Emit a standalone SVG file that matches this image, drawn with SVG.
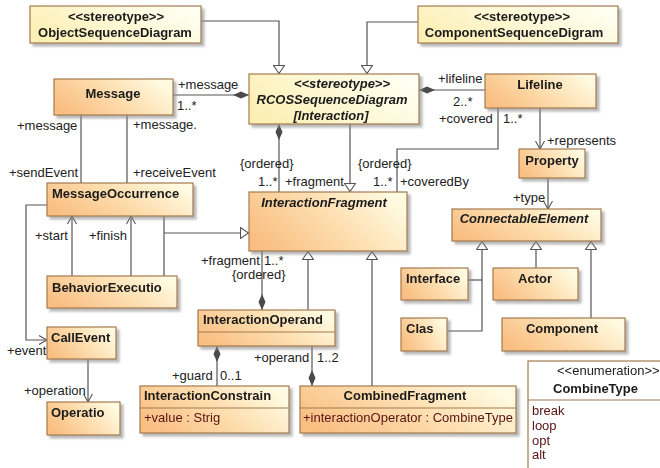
<svg xmlns="http://www.w3.org/2000/svg" width="660" height="468" viewBox="0 0 660 468">
  <defs>
    <linearGradient id="gOrange" x1="0" y1="0.7" x2="1" y2="0.3">
      <stop offset="0" stop-color="#f9be82"/>
      <stop offset="0.5" stop-color="#fddcac"/>
      <stop offset="1" stop-color="#fffbe2"/>
    </linearGradient>
    <linearGradient id="gYellow" x1="0" y1="0.7" x2="1" y2="0.3">
      <stop offset="0" stop-color="#fcefb4"/>
      <stop offset="1" stop-color="#fffff2"/>
    </linearGradient>
    <filter id="shadow" x="-10%" y="-10%" width="130%" height="140%">
      <feDropShadow dx="3" dy="3" stdDeviation="1" flood-color="#8c8c8c" flood-opacity="0.6"/>
    </filter>
    <!-- generalization: hollow triangle -->
    <marker id="gen" viewBox="0 0 9 12" refX="9" refY="6" markerWidth="9" markerHeight="12" markerUnits="userSpaceOnUse" orient="auto">
      <path d="M0.5,0.5 L8.5,6 L0.5,11.5 z" fill="#fff" stroke="#555" stroke-width="1.1"/>
    </marker>
    <!-- navigable end: open arrow -->
    <marker id="open" viewBox="0 0 9 10" refX="8.5" refY="5" markerWidth="9" markerHeight="10" markerUnits="userSpaceOnUse" orient="auto">
      <path d="M0.5,0.5 L8.5,5 L0.5,9.5" fill="none" stroke="#555" stroke-width="1.1"/>
    </marker>
    <!-- composition: filled diamond -->
    <marker id="comp" viewBox="0 0 16 8" refX="16" refY="4" markerWidth="16" markerHeight="8" markerUnits="userSpaceOnUse" orient="auto">
      <path d="M0,4 L8,0.5 L16,4 L8,7.5 z" fill="#4a4a4a"/>
    </marker>
  </defs>
  <style>
    .box { stroke: #a47a4e; stroke-width: 1.2; }
    .orange { fill: url(#gOrange); }
    .yellow { fill: url(#gYellow); }
    .enum { fill: #ffffff; }
    .node { filter: url(#shadow); }
    .div { stroke: #a47a4e; stroke-width: 1.2; }
    .name { font-family: "Liberation Sans", Arial, sans-serif; font-size: 13px; font-weight: bold; fill: #1a1a1a; }
    .ital { font-style: italic; }
    .lbl { font-family: "Liberation Sans", Arial, sans-serif; font-size: 13px; fill: #222; }
    .attr { font-family: "Liberation Sans", Arial, sans-serif; font-size: 13px; fill: #5a1212; }
    .mid { text-anchor: middle; }
    #connectors path { fill: none; stroke: #555; stroke-width: 1.2; }
    .g { marker-end: url(#gen); }
    .o { marker-end: url(#open); }
    .c { marker-end: url(#comp); }
  </style>

  <!-- associations, generalizations and compositions -->
  <g id="connectors">
    <path class="g" d="M201,21 H279 V74"/>
    <path class="g" d="M418,22 H367 V74"/>
    <path class="c" d="M173,95 H249"/>
    <path class="c" d="M485,90 H419"/>
    <path d="M81,115 V183"/>
    <path d="M127,115 V183"/>
    <path class="c" d="M279,192 V124"/>
    <path class="g" d="M350,124 V192"/>
    <path d="M498,108 V149 H397 V192"/>
    <path class="o" d="M540,108 V149"/>
    <path class="o" d="M548,178 V209"/>
    <path d="M164,216 V276"/>
    <path class="g" d="M164,233 H249"/>
    <path class="o" d="M72,276 V216"/>
    <path class="o" d="M131,276 V216"/>
    <path class="o" d="M47,205 H26 V340 H47"/>
    <path class="o" d="M88,359 V402"/>
    <path class="c" d="M262,251 V310"/>
    <path class="g" d="M308,310 V251"/>
    <path class="g" d="M372,386 V251"/>
    <path class="c" d="M217,386 V346"/>
    <path class="c" d="M312,346 V386"/>
    <path d="M468,280 H482"/>
    <path class="g" d="M447,331 H482 V241"/>
    <path class="g" d="M536,268 V241"/>
    <path class="g" d="M591,318 V241"/>
  </g>

  <!-- role names and multiplicities -->
  <g id="labels">
    <text class="lbl" x="178" y="89">+message</text>
    <text class="lbl" x="177" y="110">1..*</text>
    <text class="lbl" x="17" y="130">+message</text>
    <text class="lbl" x="133" y="129">+message.</text>
    <text class="lbl" x="9" y="177">+sendEvent</text>
    <text class="lbl" x="133" y="177">+receiveEvent</text>
    <text class="lbl" x="240" y="168">{ordered}</text>
    <text class="lbl" x="258" y="186">1..*</text>
    <text class="lbl" x="285" y="186">+fragment</text>
    <text class="lbl" x="358" y="168">{ordered}</text>
    <text class="lbl" x="373" y="186">1..*</text>
    <text class="lbl" x="400" y="186">+coveredBy</text>
    <text class="lbl" x="438" y="83">+lifeline</text>
    <text class="lbl" x="453" y="106">2..*</text>
    <text class="lbl" x="439" y="123">+covered</text>
    <text class="lbl" x="503" y="123">1..*</text>
    <text class="lbl" x="547" y="145">+represents</text>
    <text class="lbl" x="513" y="202">+type</text>
    <text class="lbl" x="35" y="240">+start</text>
    <text class="lbl" x="89" y="240">+finish</text>
    <text class="lbl" x="201" y="265">+fragment</text>
    <text class="lbl" x="264" y="265">1..*</text>
    <text class="lbl" x="232" y="279">{ordered}</text>
    <text class="lbl" x="7" y="355">+event</text>
    <text class="lbl" x="24" y="395">+operation</text>
    <text class="lbl" x="172" y="380">+guard</text>
    <text class="lbl" x="220" y="380">0..1</text>
    <text class="lbl" x="254" y="362">+operand</text>
    <text class="lbl" x="317" y="362">1..2</text>
  </g>

  <g id="ObjectSequenceDiagram" class="node">
    <rect class="box yellow" x="30" y="6" width="171" height="37"/>
    <text class="name mid" x="116" y="21">&lt;&lt;stereotype&gt;&gt;</text>
    <text class="name mid" x="115" y="37">ObjectSequenceDiagram</text>
  </g>

  <g id="ComponentSequenceDigram" class="node">
    <rect class="box yellow" x="418" y="6" width="200" height="37"/>
    <text class="name mid" x="522" y="21">&lt;&lt;stereotype&gt;&gt;</text>
    <text class="name mid" x="514" y="37">ComponentSequenceDigram</text>
  </g>

  <g id="RCOSSequenceDiagram" class="node">
    <rect class="box yellow" x="249" y="74" width="170" height="50"/>
    <text class="name ital mid" x="342" y="88">&lt;&lt;stereotype&gt;&gt;</text>
    <text class="name ital mid" x="332" y="104">RCOSSequenceDiagram</text>
    <text class="name ital mid" x="331" y="120">[Interaction]</text>
  </g>

  <g id="Message" class="node">
    <rect class="box orange" x="54" y="79" width="119" height="36"/>
    <text class="name mid" x="113" y="98">Message</text>
  </g>

  <g id="Lifeline" class="node">
    <rect class="box orange" x="485" y="74" width="111" height="34"/>
    <text class="name mid" x="540" y="89">Lifeline</text>
  </g>

  <g id="MessageOccurrence" class="node">
    <rect class="box orange" x="47" y="183" width="146" height="33"/>
    <text class="name" x="52" y="198">MessageOccurrence</text>
  </g>

  <g id="BehaviorExecution" class="node">
    <rect class="box orange" x="47" y="276" width="130" height="32"/>
    <text class="name" x="52" y="292">BehaviorExecutio</text>
  </g>

  <g id="InteractionFragment" class="node">
    <rect class="box orange" x="249" y="192" width="158" height="59"/>
    <text class="name ital mid" x="324" y="207">InteractionFragment</text>
  </g>

  <g id="Property" class="node">
    <rect class="box orange" x="519" y="149" width="66" height="29"/>
    <text class="name mid" x="552" y="165">Property</text>
  </g>

  <g id="ConnectableElement" class="node">
    <rect class="box orange" x="452" y="209" width="149" height="32"/>
    <text class="name ital mid" x="524" y="223">ConnectableElement</text>
  </g>

  <g id="Interface" class="node">
    <rect class="box orange" x="401" y="268" width="67" height="32"/>
    <text class="name" x="406" y="283">Interface</text>
  </g>

  <g id="Actor" class="node">
    <rect class="box orange" x="493" y="268" width="85" height="32"/>
    <text class="name mid" x="535" y="283">Actor</text>
  </g>

  <g id="Class" class="node">
    <rect class="box orange" x="401" y="318" width="46" height="33"/>
    <text class="name" x="406" y="333">Clas</text>
  </g>

  <g id="Component" class="node">
    <rect class="box orange" x="502" y="318" width="123" height="33"/>
    <text class="name mid" x="562" y="333">Component</text>
  </g>

  <g id="InteractionOperand" class="node">
    <rect class="box orange" x="198" y="310" width="137" height="36"/>
    <line class="div" x1="198" y1="332" x2="335" y2="332"/>
    <text class="name" x="203" y="324">InteractionOperand</text>
  </g>

  <g id="InteractionConstraint" class="node">
    <rect class="box orange" x="140" y="386" width="149" height="47"/>
    <line class="div" x1="140" y1="408" x2="289" y2="408"/>
    <text class="name" x="144" y="400">InteractionConstrain</text>
    <text class="attr" x="144" y="422">+value : Strig</text>
  </g>

  <g id="CombinedFragment" class="node">
    <rect class="box orange" x="300" y="386" width="216" height="47"/>
    <line class="div" x1="300" y1="408" x2="516" y2="408"/>
    <text class="name mid" x="405" y="400">CombinedFragment</text>
    <text class="attr" x="303" y="422">+interactionOperator : CombineType</text>
  </g>

  <g id="CallEvent" class="node">
    <rect class="box orange" x="47" y="327" width="69" height="32"/>
    <text class="name" x="51" y="342">CallEvent</text>
  </g>

  <g id="Operation" class="node">
    <rect class="box orange" x="47" y="402" width="73" height="33"/>
    <text class="name" x="51" y="417">Operatio</text>
  </g>

  <g id="CombineType" class="node">
    <rect class="box enum" x="528" y="361" width="140" height="115"/>
    <line class="div" x1="528" y1="400" x2="668" y2="400"/>
    <text class="lbl" x="557" y="375">&lt;&lt;enumeration&gt;&gt;</text>
    <text class="name" x="553" y="393">CombineType</text>
    <text class="attr" x="532" y="415">break</text>
    <text class="attr" x="532" y="430">loop</text>
    <text class="attr" x="532" y="445">opt</text>
    <text class="attr" x="532" y="459">alt</text>
  </g>
</svg>
